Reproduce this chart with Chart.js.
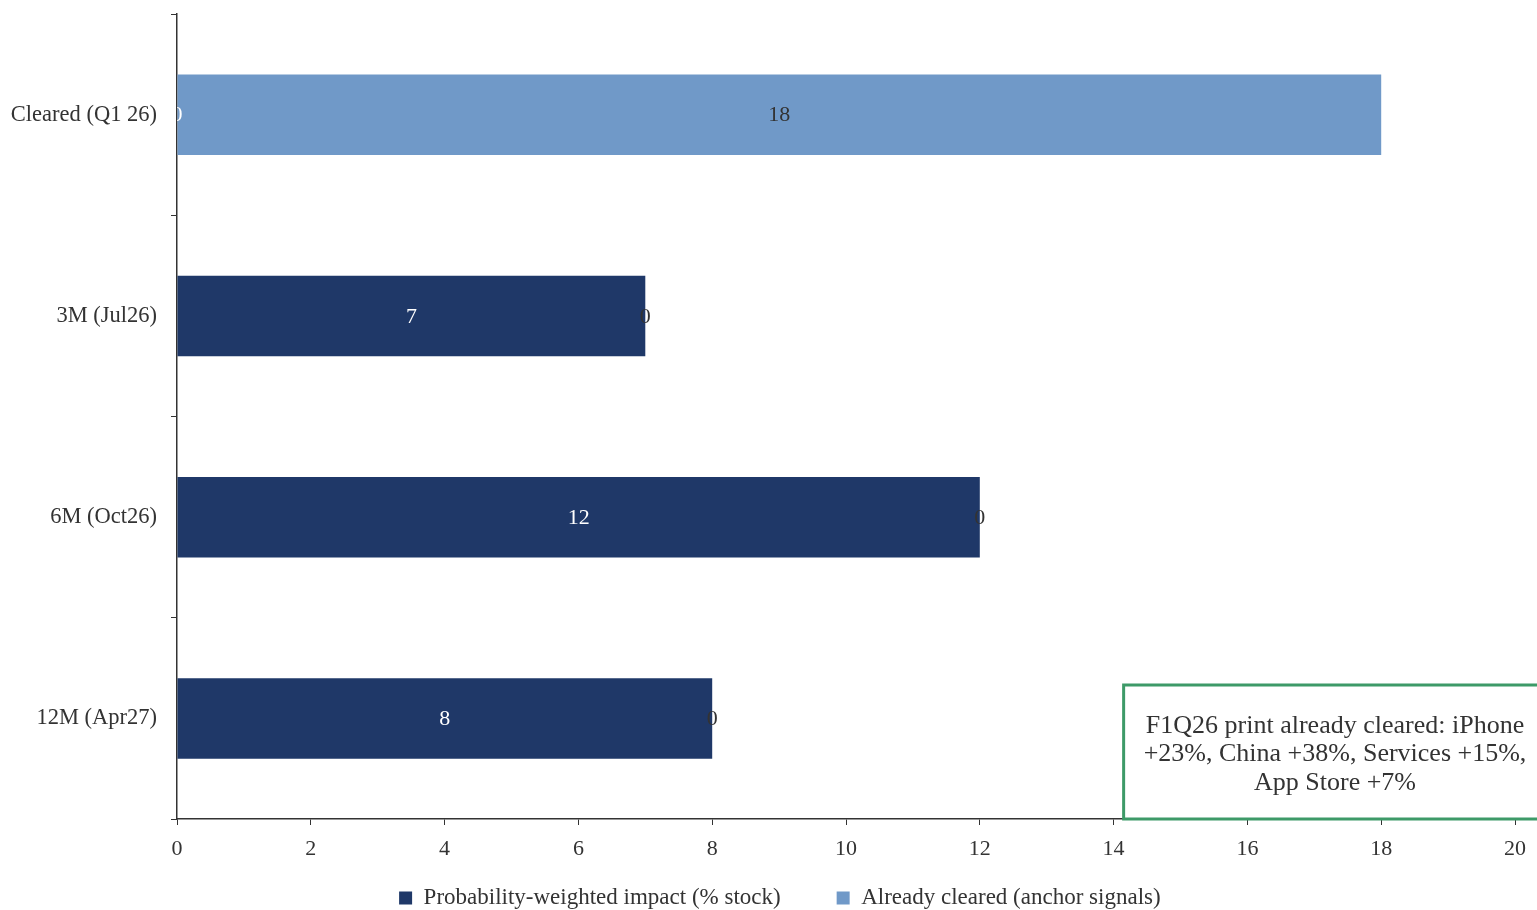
<!DOCTYPE html>
<html>
<head>
<meta charset="utf-8">
<script src="https://cdn.jsdelivr.net/npm/chart.js@4.4.1/dist/chart.umd.min.js"></script>
<style>
  html, body { margin: 0; padding: 0; background: #ffffff; overflow: hidden; }
  #wrap { width: 1537px; height: 910px; position: relative; }
</style>
</head>
<body>
<div id="wrap"><canvas id="chart" width="1537" height="910"></canvas></div>
<script>
// Horizons for the catalyst path
const categories = ['Cleared (Q1 26)', '3M (Jul26)', '6M (Oct26)', '12M (Apr27)'];
// Probability-weighted impact, % of stock
const impactValues = [0, 7, 12, 8];
// Upside already cleared by anchor signals, % of stock
const clearedValues = [18, 0, 0, 0];
const seriesNames = ['Probability-weighted impact (% stock)', 'Already cleared (anchor signals)'];
// Value axis
const xMin = 0;
const xMax = 20;
const xStep = 2;
// Call-out note
const noteLines = ['F1Q26 print already cleared: iPhone', '+23%, China +38%, Services +15%,', 'App Store +7%'];
const noteFromValue = 14.15;

const SERIF = '"Liberation Serif", "DejaVu Serif", serif';
const NAVY = '#1f3868';
const LIGHT = '#7099c8';
const INK = '#333333';

// Value labels centred in each bar segment, clipped to the plot area
const barLabels = {
  id: 'barLabels',
  afterDatasetsDraw(chart) {
    const { ctx, chartArea } = chart;
    ctx.save();
    ctx.beginPath();
    ctx.rect(chartArea.left, chartArea.top, chartArea.right - chartArea.left, chartArea.bottom - chartArea.top);
    ctx.clip();
    ctx.font = '22px ' + SERIF;
    ctx.textAlign = 'center';
    ctx.textBaseline = 'middle';
    chart.data.datasets.forEach((ds, di) => {
      const meta = chart.getDatasetMeta(di);
      meta.data.forEach((bar, i) => {
        const cx = (bar.x + bar.base) / 2;
        ctx.fillStyle = ds.labelColor;
        ctx.fillText(String(ds.data[i]), cx, bar.y + 1);
      });
    });
    ctx.restore();
  }
};

// Boxed call-out anchored to the value axis
const noteBox = {
  id: 'noteBox',
  afterDraw(chart) {
    const { ctx, chartArea } = chart;
    const x = chart.scales.x;
    const left = x.getPixelForValue(noteFromValue);
    const right = chart.width + 10;
    const bottom = chartArea.bottom;
    const top = bottom - 134;
    ctx.save();
    ctx.fillStyle = '#ffffff';
    ctx.fillRect(left, top, right - left, bottom - top);
    ctx.strokeStyle = '#3d9a68';
    ctx.lineWidth = 3;
    ctx.strokeRect(left, top, right - left, bottom - top);
    ctx.fillStyle = INK;
    ctx.font = '26px ' + SERIF;
    ctx.textAlign = 'center';
    ctx.textBaseline = 'middle';
    const cx = 1335;
    noteLines.forEach((line, i) => {
      ctx.fillText(line, cx, top + 41 + i * 28.5);
    });
    ctx.restore();
  }
};

new Chart(document.getElementById('chart'), {
  type: 'bar',
  data: {
    labels: categories,
    datasets: [
      {
        label: seriesNames[0],
        data: impactValues,
        backgroundColor: NAVY,
        labelColor: '#ffffff',
        categoryPercentage: 0.8,
        barPercentage: 0.5
      },
      {
        label: seriesNames[1],
        data: clearedValues,
        backgroundColor: LIGHT,
        labelColor: INK,
        categoryPercentage: 0.8,
        barPercentage: 0.5
      }
    ]
  },
  options: {
    indexAxis: 'y',
    responsive: false,
    animation: false,
    layout: { padding: { top: 14, right: 22, left: 0, bottom: -9.5 } },
    scales: {
      x: {
        stacked: true,
        min: xMin,
        max: xMax,
        ticks: {
          stepSize: xStep,
          color: INK,
          font: { family: SERIF, size: 22 },
          padding: 11
        },
        grid: {
          display: true,
          drawOnChartArea: false,
          drawTicks: true,
          tickLength: 6,
          tickColor: INK,
          color: INK
        },
        border: { display: true, color: INK, width: 1.5 },
        afterFit(scale) { scale.height = 57.5; }
      },
      y: {
        stacked: true,
        ticks: {
          color: INK,
          font: { family: SERIF, size: 22.5 },
          padding: 14
        },
        grid: {
          display: true,
          offset: true,
          drawOnChartArea: false,
          drawTicks: true,
          tickLength: 6,
          tickColor: INK,
          color: INK
        },
        border: { display: true, color: INK, width: 1.5 },
        afterFit(scale) {
          scale.width = 177;
          scale.paddingTop = 0;
          scale.paddingBottom = 0;
        }
      }
    },
    plugins: {
      legend: {
        position: 'bottom',
        fullSize: false,
        labels: {
          color: INK,
          font: { family: SERIF, size: 23 },
          boxWidth: 13,
          boxHeight: 13,
          padding: 10,
          generateLabels(chart) {
            const last = chart.data.datasets.length - 1;
            return chart.data.datasets.map((ds, i) => ({
              text: i < last ? ds.label + '        ' : ds.label + ' '.repeat(23),
              fillStyle: ds.backgroundColor,
              strokeStyle: ds.backgroundColor,
              lineWidth: 0,
              hidden: false,
              datasetIndex: i,
              fontColor: INK
            }));
          }
        }
      },
      tooltip: { enabled: false }
    }
  },
  plugins: [barLabels, noteBox]
});
</script>
</body>
</html>
